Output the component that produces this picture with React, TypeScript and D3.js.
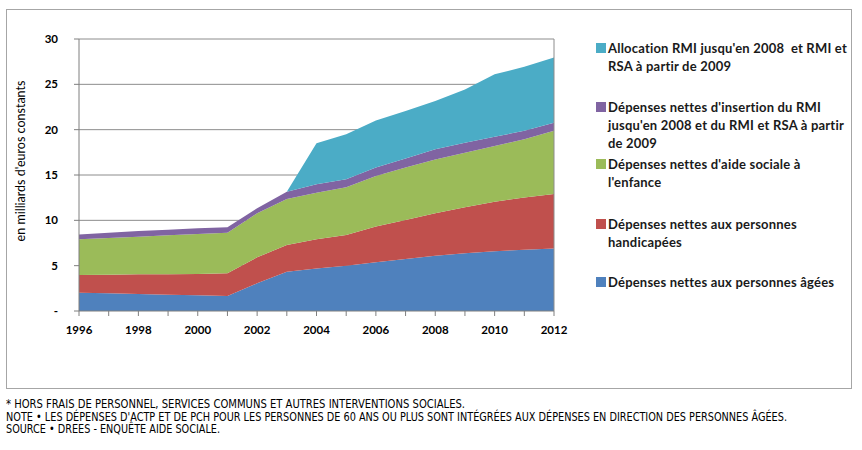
import React from 'react';
import * as d3 from 'd3';

const years = [1996, 1997, 1998, 1999, 2000, 2001, 2002, 2003, 2004, 2005, 2006, 2007, 2008, 2009, 2010, 2011, 2012];

// valeurs en milliards d'euros constants
const agees = [2.0, 1.95, 1.88, 1.8, 1.73, 1.65, 3.05, 4.33, 4.7, 4.98, 5.37, 5.74, 6.1, 6.36, 6.6, 6.76, 6.9];
const handicapees = [1.97, 2.05, 2.16, 2.26, 2.35, 2.5, 2.87, 2.94, 3.2, 3.4, 3.96, 4.31, 4.67, 5.07, 5.45, 5.77, 6.0];
const enfance = [3.93, 4.05, 4.16, 4.29, 4.41, 4.48, 4.85, 5.08, 5.15, 5.26, 5.55, 5.79, 5.95, 6.02, 6.14, 6.4, 6.98];
const insertion = [0.55, 0.59, 0.62, 0.62, 0.63, 0.6, 0.55, 0.8, 0.92, 0.88, 0.96, 0.99, 1.11, 1.11, 1.03, 0.95, 0.88];
const allocation = [0, 0, 0, 0, 0, 0, 0, 0, 4.52, 4.98, 5.16, 5.22, 5.32, 5.88, 6.88, 7.06, 7.21];

const yTicks = [0, 5, 10, 15, 20, 25, 30];
const xLabels = [1996, 1998, 2000, 2002, 2004, 2006, 2008, 2010, 2012];

const series = [
  { key: 'agees', values: agees, color: '#4F81BD', label: ['Dépenses nettes aux personnes âgées'] },
  { key: 'handicapees', values: handicapees, color: '#C0504D', label: ['Dépenses nettes aux personnes', 'handicapées'] },
  { key: 'enfance', values: enfance, color: '#9BBB59', label: ["Dépenses nettes d'aide sociale à", "l'enfance"] },
  { key: 'insertion', values: insertion, color: '#8064A2', label: ["Dépenses nettes d'insertion du RMI", "jusqu'en 2008 et du RMI et RSA à partir", 'de 2009'] },
  { key: 'allocation', values: allocation, color: '#4BACC6', label: ["Allocation RMI jusqu'en 2008\u00a0 et RMI et", 'RSA à partir de 2009'] },
];

const legendTops = [282, 224, 164, 107, 48];

const notes = [
  '* HORS FRAIS DE PERSONNEL, SERVICES COMMUNS ET AUTRES INTERVENTIONS SOCIALES.',
  "NOTE • LES DÉPENSES D'ACTP ET DE PCH POUR LES PERSONNES DE 60 ANS OU PLUS SONT INTÉGRÉES AUX DÉPENSES EN DIRECTION DES PERSONNES ÂGÉES.",
  'SOURCE • DREES - ENQUÊTE AIDE SOCIALE.',
];
const noteWidths = [459, 781, 214];

export default function App() {
  const left = 79, right = 554, top = 39, bottom = 311;

  const x = d3.scaleLinear().domain([1996, 2012]).range([left, right]);
  const y = d3.scaleLinear().domain([0, 30]).range([bottom, top]);

  const table = years.map((yr, i) => {
    const row: any = { year: yr };
    series.forEach(s => { row[s.key] = s.values[i]; });
    return row;
  });
  const stacked = d3.stack().keys(series.map(s => s.key))(table);

  const area = d3.area<any>()
    .x(d => x(d.data.year))
    .y0(d => y(d[0]))
    .y1(d => y(d[1]));

  const font = 'Lato, "Open Sans", sans-serif';
  const grid = '#8c8c8c';

  return (
    <svg width={862} height={450} style={{ position: 'absolute', left: 0, top: 0, background: '#fff' }}>
      <rect x={6.5} y={9.5} width={845} height={379} fill="none" stroke="#a6a6a6" />

      {yTicks.filter(t => t > 0).map(t => (
        <line key={t} x1={left} x2={right} y1={y(t)} y2={y(t)} stroke={grid} strokeWidth={1} />
      ))}

      {stacked.map((layer, i) => (
        <path key={layer.key} d={area(layer) || ''} fill={series[i].color} />
      ))}

      <line x1={right} x2={right} y1={top} y2={bottom} stroke={grid} />
      <line x1={left} x2={left} y1={top} y2={bottom} stroke="#7f7f7f" />
      <line x1={left} x2={right} y1={bottom} y2={bottom} stroke="#7f7f7f" />

      {yTicks.map(t => (
        <g key={t}>
          <line x1={left - 5} x2={left} y1={y(t)} y2={y(t)} stroke="#7f7f7f" />
          <text x={58} y={y(t)} dy="0.35em" textAnchor="end" fontFamily={font} fontWeight="bold" fontSize={11.5} fill="#000">
            {t === 0 ? '-' : t}
          </text>
        </g>
      ))}

      {years.map(yr => (
        <line key={yr} x1={x(yr)} x2={x(yr)} y1={bottom} y2={bottom + 5} stroke="#7f7f7f" />
      ))}
      {xLabels.map(yr => (
        <text key={yr} x={x(yr)} y={330} dy="0.35em" textAnchor="middle" fontFamily={font} fontWeight="bold" fontSize={11.5} fill="#000">
          {yr}
        </text>
      ))}

      <text transform="translate(21,161) rotate(-90)" textAnchor="middle" dy="0.35em" fontFamily={font} fontSize={12.5} fill="#000">
        en milliards d'euros constants
      </text>

      {series.map((s, i) => (
        <g key={s.key}>
          <rect x={596} y={legendTops[i] - 5} width={10} height={10} fill={s.color} />
          {s.label.map((line, j) => (
            <text key={j} x={608} y={legendTops[i] + j * 18.3} dy="0.35em" fontFamily={font} fontWeight="bold" fontSize={13} letterSpacing={0.2} fill="#1a1a1a">
              {line}
            </text>
          ))}
        </g>
      ))}

      {notes.map((n, i) => (
        <text key={i} x={6} y={408 + i * 12.6} textLength={noteWidths[i]} lengthAdjust="spacingAndGlyphs"
          fontFamily='"DejaVu Sans Condensed", "Liberation Sans Narrow", sans-serif' fontSize={12} fill="#000">
          {n}
        </text>
      ))}
    </svg>
  );
}
